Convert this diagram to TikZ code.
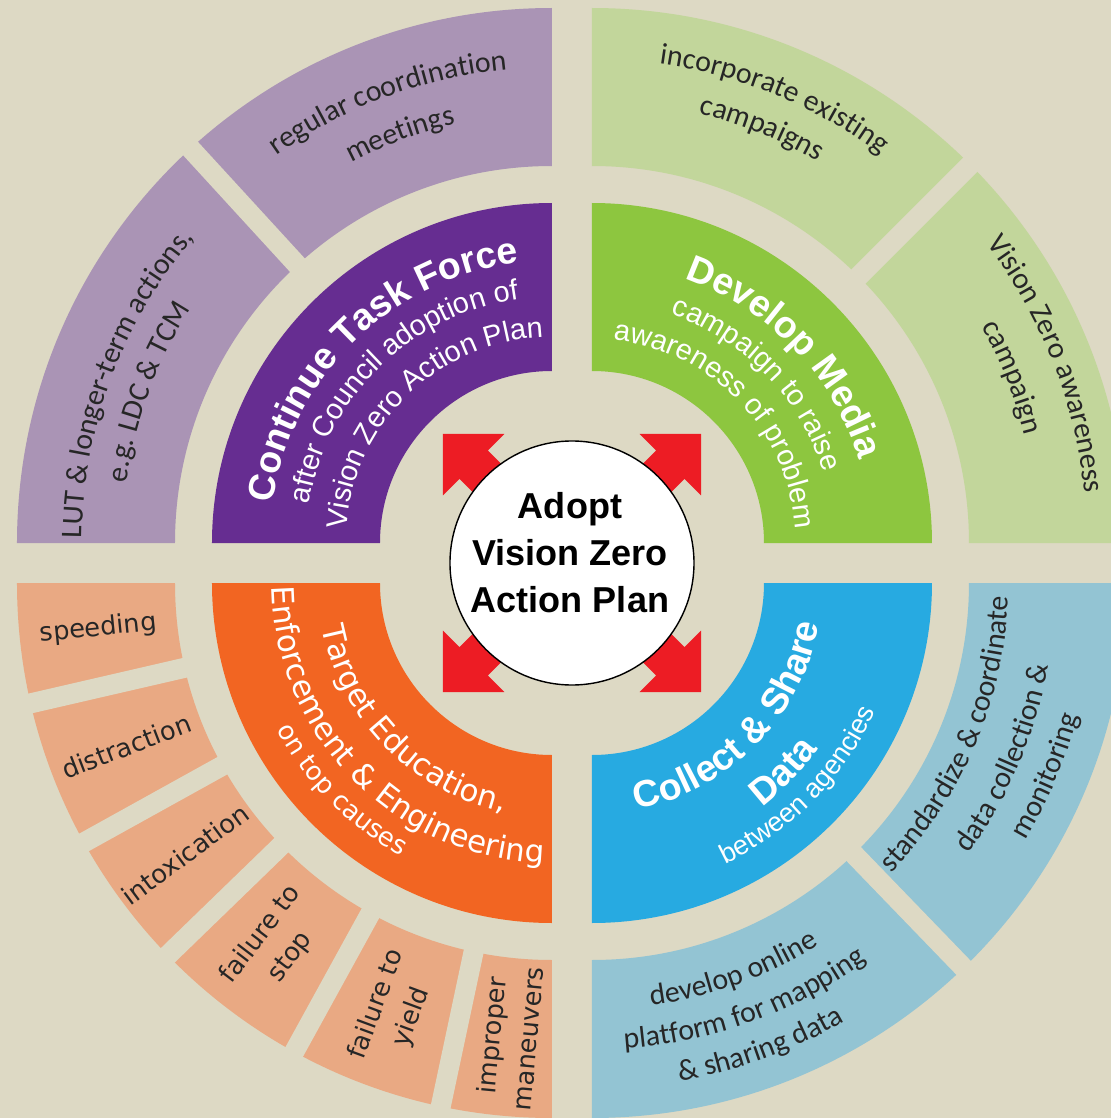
\documentclass[tikz,border=0pt]{standalone}
\usepackage{fontspec}
\setmainfont{Liberation Sans}
\newfontfamily\vzverdana{DejaVu Sans}
\newfontfamily\vzcalibri{Carlito}
\usetikzlibrary{decorations.text}
\definecolor{vzbg}{RGB}{221,217,196}
\definecolor{vzpurple}{RGB}{102,45,145}
\definecolor{vzlilac}{RGB}{170,148,181}
\definecolor{vzgreen}{RGB}{141,198,63}
\definecolor{vzsage}{RGB}{194,214,155}
\definecolor{vzorange}{RGB}{242,101,34}
\definecolor{vzpeach}{RGB}{233,169,131}
\definecolor{vzblue}{RGB}{39,170,225}
\definecolor{vzsky}{RGB}{147,196,211}
\definecolor{vzred}{RGB}{237,28,36}
\newcommand{\vzTitle}{\fontsize{21.3}{25}\selectfont\bfseries}
\newcommand{\vzSub}{\fontsize{16.5}{20}\selectfont}
\newcommand{\vzSmall}{\fontsize{15.4}{18}\selectfont}
\newcommand{\vzOrTitle}{\vzverdana\fontsize{17.6}{21}\selectfont}
\newcommand{\vzOrSub}{\vzverdana\fontsize{14.7}{18}\selectfont}
\newcommand{\vzOuter}{\vzcalibri\fontsize{17}{20}\selectfont}
\newcommand{\vzBox}{\vzverdana\fontsize{14.6}{21}\selectfont}
\newcommand{\vzHub}{\fontsize{20.5}{26.7}\selectfont\bfseries}

\begin{document}
\begin{tikzpicture}[line join=round,
	wtext/.style={decorate, decoration={text along path, text align=center, text color=white, text={#1}}},
	ktext/.style={decorate, decoration={text along path, text align=center, text color=black!85, text={#1}}},
	gapline/.style={vzbg, line width=0.4cm},
	hub/.style={circle, draw=black, line width=0.8pt, fill=white, minimum size=4.88cm, inner sep=0pt},
	boxlabel/.style={align=center, font=\vzBox, text=black!85, inner sep=0pt}]
	\useasboundingbox (-11.44,-11.10) rectangle (10.78,11.26);
	\clip (-11.44,-11.10) rectangle (10.78,11.26);
	\fill[vzbg] (-11.44,-11.10) rectangle (10.78,11.26);
	\coordinate (cP) at (-0.4,0.4);
	\coordinate (cG) at (0.4,0.4);
	\coordinate (cO) at (-0.4,-0.4);
	\coordinate (cB) at (0.4,-0.4);
	% quarter rings
	\foreach \c/\a/\dk/\lt in {cP/90/vzpurple/vzlilac, cG/0/vzgreen/vzsage, cO/180/vzorange/vzpeach, cB/270/vzblue/vzsky}{
		\fill[fill=\dk, shift={(\c)}] (\a:3.44) -- (\a:6.8) arc[start angle=\a, delta angle=90, radius=6.8] -- (\a+90:3.44) arc[start angle=\a+90, delta angle=-90, radius=3.44] -- cycle;
		\fill[fill=\lt, shift={(\c)}] (\a:7.54) -- (\a:10.7) arc[start angle=\a, delta angle=90, radius=10.7] -- (\a+90:7.54) arc[start angle=\a+90, delta angle=-90, radius=7.54] -- cycle;}
	% cuts in the outer ring
	\foreach \c/\a in {cP/132.5, cG/45, cB/-46, cO/193, cO/209, cO/224.1, cO/241.2, cO/258}
		\draw[gapline, shift={(\c)}] (\a:7.2) -- (\a:11.5);
	% arrows and hub
	\foreach \a in {45,135,225,315}
		\fill[vzred, rotate=\a] (3.65,0) -- (2.78,0.87) -- (2.78,0.4) -- (2.0,0.4) -- (2.0,-0.4) -- (2.78,-0.4) -- (2.78,-0.87) -- cycle;
	\node[hub] (hub) at (0,0) {};
	\node[align=center, font=\vzHub, inner sep=0pt] (hubtext) at (-0.04,0.2) {Adopt\\Vision Zero\\Action Plan};
	% inner ring
	\path[shift={(cP)}, wtext={|\vzTitle|Continue Task Force}] (214.3:5.64) arc[start angle=214.3, delta angle=-160, radius=5.64];
	\path[shift={(cP)}, wtext={|\vzSub|after Council adoption of}] (214.3:4.92) arc[start angle=214.3, delta angle=-160, radius=4.92];
	\path[shift={(cP)}, wtext={|\vzSub|Vision Zero Action Plan}] (214.3:4.12) arc[start angle=214.3, delta angle=-160, radius=4.12];
	\path[shift={(cG)}, wtext={|\vzTitle|Develop Media}] (124:5.6) arc[start angle=124, delta angle=-160, radius=5.6];
	\path[shift={(cG)}, wtext={|\vzSub|campaign to raise}] (124:4.84) arc[start angle=124, delta angle=-160, radius=4.84];
	\path[shift={(cG)}, wtext={|\vzSub|awareness of problem}] (124:4.08) arc[start angle=124, delta angle=-160, radius=4.08];
	\path[shift={(cO)}, wtext={|\vzOrTitle|Target Education,}] (144.5:4.68) arc[start angle=144.5, delta angle=160, radius=4.68];
	\path[shift={(cO)}, wtext={|\vzOrTitle|Enforcement {\&} Engineering}] (144.5:5.6) arc[start angle=144.5, delta angle=160, radius=5.6];
	\path[shift={(cO)}, wtext={|\vzOrSub|on top causes}] (144.5:6.24) arc[start angle=144.5, delta angle=160, radius=6.24];
	\path[shift={(cB)}, wtext={|\vzTitle|Collect {\&} Share}] (235.5:4.62) arc[start angle=235.5, delta angle=160, radius=4.62];
	\path[shift={(cB)}, wtext={|\vzTitle|Data}] (235.5:5.62) arc[start angle=235.5, delta angle=160, radius=5.62];
	\path[shift={(cB)}, wtext={|\vzSmall|between agencies}] (235.5:6.22) arc[start angle=235.5, delta angle=160, radius=6.22];
	% outer ring
	\path[shift={(cP)}, ktext={|\vzOuter|regular coordination}] (170.4:9.51) arc[start angle=170.4, delta angle=-120, radius=9.51];
	\path[shift={(cP)}, ktext={|\vzOuter|meetings}] (170.4:8.6) arc[start angle=170.4, delta angle=-120, radius=8.6];
	\path[shift={(cP)}, ktext={|\vzOuter|LUT {\&} longer-term actions,}] (219.5:9.4) arc[start angle=219.5, delta angle=-120, radius=9.4];
	\path[shift={(cP)}, ktext={|\vzOuter|e.g. LDC {\&} TCM}] (219.5:8.6) arc[start angle=219.5, delta angle=-120, radius=8.6];
	\path[shift={(cG)}, ktext={|\vzOuter|incorporate existing}] (127.7:9.68) arc[start angle=127.7, delta angle=-120, radius=9.68];
	\path[shift={(cG)}, ktext={|\vzOuter|campaigns}] (127.7:8.86) arc[start angle=127.7, delta angle=-120, radius=8.86];
	\path[shift={(cG)}, ktext={|\vzOuter|Vision Zero awareness}] (81.5:9.9) arc[start angle=81.5, delta angle=-120, radius=9.9];
	\path[shift={(cG)}, ktext={|\vzOuter|campaign}] (81.5:8.92) arc[start angle=81.5, delta angle=-120, radius=8.92];
	\path[shift={(cB)}, ktext={|\vzOuter|standardize {\&} coordinate}] (-83:8.33) arc[start angle=-83, delta angle=120, radius=8.33];
	\path[shift={(cB)}, ktext={|\vzOuter|data collection {\&}}] (-83:9.28) arc[start angle=-83, delta angle=120, radius=9.28];
	\path[shift={(cB)}, ktext={|\vzOuter|monitoring}] (-83:10.08) arc[start angle=-83, delta angle=120, radius=10.08];
	\path[shift={(cB)}, ktext={|\vzOuter|develop online}] (-130:8.54) arc[start angle=-130, delta angle=120, radius=8.54];
	\path[shift={(cB)}, ktext={|\vzOuter|platform for mapping}] (-130:9.34) arc[start angle=-130, delta angle=120, radius=9.34];
	\path[shift={(cB)}, ktext={|\vzOuter|{\&} sharing data}] (-130:10.12) arc[start angle=-130, delta angle=120, radius=10.12];
	\foreach \a/\lbl/\nm in {185.75/speeding/speed, 201/distraction/distract, 216.5/intoxication/intox, 232.7/{failure to\\stop}/stop, 249.75/{failure to\\yield}/yield, 264.65/{improper\\maneuvers}/improper}
		\node[boxlabel, rotate=\a-180] (\nm) at ([shift={(\a:9.12)}]cO) {\lbl};
\end{tikzpicture}
\end{document}
